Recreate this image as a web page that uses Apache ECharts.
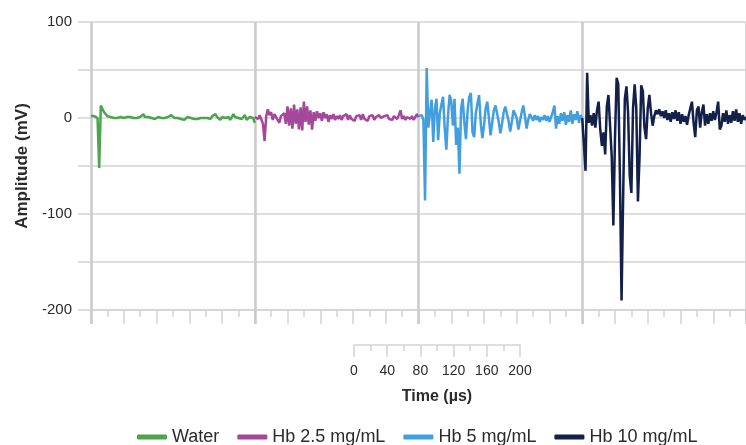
<!DOCTYPE html>
<html>
<head>
<meta charset="utf-8">
<script src="https://cdn.jsdelivr.net/npm/echarts@6/dist/echarts.min.js"></script>
<style>
    html, body { margin: 0; padding: 0; background: #fff; }
    #main { width: 746px; height: 445px; }
</style>
</head>
<body>
<div id="main"></div>
<script>
    // each trace is sampled every 2 µs over 200 µs, traces are placed one after another
    const sampleStep = 2
    const segmentWidth = 200
    const seriesNames = ['Water', 'Hb 2.5 mg/mL', 'Hb 5 mg/mL', 'Hb 10 mg/mL']
    const seriesColors = ['#4ba54b', '#a6489a', '#419fe0', '#12204a']

    const water = [2,1,2,1,0,-52,13,14,6,4, 2,3,1,2,0,1,0,-1,1,0, 0,-1,1,0,1,-1,0,1,0,-1,
        1,0,4,1,3,1,2,0,1,-1, 0,1,-1,0,-2,0,-1,1,2,3, 1,0,2,0,1,-1,0,-2,0,1,
        2,0,1,-1,0,-1,1,0,2,0, -2,0,1,-1,2,0,4,1,0,-2, 1,3,0,-1,1,-2,0,4,1,-1,
        0,2,-1,0,3,-2,0,1,-1,0, -5]
    const hb25 = [1,2,-1,3,1,-6,-24,2,9,3, 6,-2,4,1,3,-5,2,0,5,-6, 12,-8,10,-11,14,-6,9,-12,11,-13,
        17,-4,12,-7,8,-12,6,-3,7,0, 5,-3,6,0,4,-4,3,-1,4,-2, 2,-1,3,-2,2,0,4,-2,3,-1,
        1,-3,2,0,3,-2,4,-1,1,-3, 2,0,3,-2,1,-1,3,0,-2,2, 0,3,-1,1,-2,2,0,-1,3,8,
        -1,2,-2,1,3,-1,2,-2,1,4, 1]
    const hb5 = [2,0,3,-2,-86,52,-10,5,19,-25, 10,20,-23,5,14,22,-10,-33,2,24, 18,-8,20,-28,-10,-58,10,20,-5,-22,
        8,22,26,-15,-20,5,15,24,-5,-21, -8,10,17,0,-18,-5,8,13,15,-4, -16,-6,6,12,13,-3,-14,-4,8,10,
        0,-12,-3,6,13,2,-11,-2,4,1, -3,3,-2,2,-4,1,-2,3,-3,2, -4,1,6,13,-11,2,-6,5,-3,6,
        -7,3,-4,8,-6,4,-2,7,-5,3, 0]
    const hb10 = [0,2,-55,47,-5,3,-8,5,-10,8, 17,-12,-29,-15,-38,12,24,22,-40,-112, -20,42,35,-60,-190,-80,20,33,5,-60,
        -78,10,35,10,-87,-40,34,28,-10,-22, 10,24,5,-8,2,8,4,9,2,7, 0,8,-2,5,-4,6,-1,8,-3,6,
        -6,4,-4,2,-7,3,10,17,-5,-20, 8,12,-10,6,14,-8,4,-6,5,-3, 7,-2,6,17,-12,-8,5,-4,8,-6,
        3,-5,7,-3,9,-4,5,-6,3,-2, 1]
    const traces = [water, hb25, hb5, hb10]

    const yTicks = [-200, -100, 0, 100]
    const scaleTicks = [0, 40, 80, 120, 160, 200]

    const gridColor = '#d4d4d8'
    const textColor = '#2b2b2b'

    let chartInstance = echarts.init(document.getElementById('main'), null, { renderer: 'canvas' })

    const seriesArr = traces.map((values, index) => {
        return {
            name: seriesNames[index],
            type: 'line',
            xAxisIndex: 0,
            yAxisIndex: 0,
            showSymbol: false,
            color: seriesColors[index],
            lineStyle: { width: 2.5, color: seriesColors[index] },
            data: values.map((v, i) => [index * segmentWidth + i * sampleStep, v])
        }
    })

    const option = {
        animation: false,
        backgroundColor: '#fff',
        textStyle: { fontFamily: 'Liberation Sans, Arial, sans-serif' },
        grid: [
            { left: 91, top: 22, width: 662, height: 288 },
            { left: 354, top: 300, width: 166, height: 45 }
        ],
        legend: {
            data: seriesNames,
            left: 132,
            top: 423,
            icon: 'roundRect',
            itemWidth: 30,
            itemHeight: 5,
            itemGap: 18,
            textStyle: { fontSize: 18, color: textColor }
        },
        xAxis: [
            {
                // ticks every 40 µs, minor every 20 µs
                type: 'value', gridIndex: 0, min: 0, max: 800, interval: 40,
                axisLine: { show: true, onZero: false, lineStyle: { color: gridColor, width: 1.5 } },
                axisTick: { show: true, length: 14, lineStyle: { color: gridColor, width: 1.5 } },
                minorTick: { show: true, splitNumber: 2, length: 7, lineStyle: { color: gridColor, width: 1.5 } },
                axisLabel: { show: false },
                splitLine: { show: false }
            },
            {
                // thick separators between the traces
                type: 'value', gridIndex: 0, min: 0, max: 800, interval: segmentWidth,
                position: 'bottom',
                axisLine: { show: false, onZero: false },
                axisTick: { show: true, length: 14, lineStyle: { color: '#cacace', width: 2.5 } },
                axisLabel: { show: false },
                splitLine: { show: true, lineStyle: { color: '#cacace', width: 2.5 } }
            },
            {
                // time scale bar
                type: 'value', gridIndex: 1, min: 0, max: 200, interval: 40,
                name: 'Time (µs)', nameLocation: 'middle', nameGap: 44,
                nameTextStyle: { fontSize: 16, fontWeight: 'bold', color: textColor },
                axisLine: { show: true, onZero: false, lineStyle: { color: gridColor, width: 1.5 } },
                axisTick: { show: true, length: 12, lineStyle: { color: gridColor, width: 1.5 } },
                minorTick: { show: true, splitNumber: 2, length: 6, lineStyle: { color: gridColor, width: 1.5 } },
                axisLabel: {
                    margin: 19, fontSize: 14, color: textColor,
                    formatter: (v) => scaleTicks.indexOf(v) > -1 ? String(v) : ''
                },
                splitLine: { show: false }
            }
        ],
        yAxis: [
            {
                type: 'value', gridIndex: 0, min: -200, max: 100, interval: 50,
                name: 'Amplitude (mV)', nameLocation: 'middle', nameGap: 60,
                nameTextStyle: { fontSize: 17, fontWeight: 'bold', color: textColor },
                axisLine: { show: false },
                axisTick: { show: true, length: 13, lineStyle: { color: gridColor, width: 1.5 } },
                axisLabel: {
                    margin: 19, fontSize: 15, color: textColor,
                    formatter: (v) => yTicks.indexOf(v) > -1 ? String(v) : ''
                },
                splitLine: { show: true, lineStyle: { color: gridColor, width: 1.5 } }
            },
            {
                type: 'value', gridIndex: 1, show: false
            }
        ],
        series: seriesArr
    }
    chartInstance.setOption(option)
</script>
</body>
</html>
